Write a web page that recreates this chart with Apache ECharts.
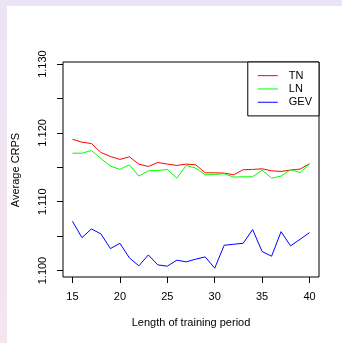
<!DOCTYPE html>
<html>
<head>
<meta charset="utf-8">
<script src="https://cdn.jsdelivr.net/npm/echarts@6/dist/echarts.min.js"></script>
<style>
html,body{margin:0;padding:0;width:342px;height:343px;overflow:hidden;}
body{background:linear-gradient(to bottom,#ebe4f5,#f7e4ee);position:relative;}
#paper{position:absolute;left:7px;top:6px;right:0;bottom:0;background:#ffffff;}
#chart{position:absolute;left:0;top:0;width:342px;height:343px;}
</style>
</head>
<body>
<div id="paper"></div>
<div id="chart"></div>
<script>
const periods = [15,16,17,18,19,20,21,22,23,24,25,26,27,28,29,30,31,32,33,34,35,36,37,38,39,40];
const tnValues = [1.11908,1.11865,1.11845,1.11715,1.11657,1.11614,1.11652,1.11546,1.11512,1.11570,1.11546,1.11527,1.11546,1.11536,1.11420,1.11420,1.11416,1.11391,1.11464,1.11469,1.11478,1.11449,1.11440,1.11459,1.11474,1.11551];
const lnValues = [1.11705,1.11705,1.11744,1.11628,1.11517,1.11469,1.11536,1.11372,1.11449,1.11454,1.11469,1.11343,1.11527,1.11488,1.11391,1.11396,1.11406,1.11358,1.11362,1.11362,1.11459,1.11343,1.11372,1.11464,1.11425,1.11546];
const gevValues = [1.10715,1.10478,1.10604,1.10532,1.10319,1.10396,1.10184,1.10068,1.10227,1.10082,1.10063,1.10150,1.10126,1.10165,1.10198,1.10034,1.10367,1.10382,1.10396,1.10594,1.10276,1.10208,1.10565,1.10358,1.10454,1.10551];
const seriesNames = ['TN','LN','GEV'];
const xTickValues = [15,20,25,30,35,40];
const yTickValues = [1.100,1.105,1.110,1.115,1.120,1.125,1.130];
const yLabelValues = [1.100,1.110,1.120,1.130];
const xTitle = 'Length of training period';
const yTitle = 'Average CRPS';

const FONT = '"Liberation Sans", Arial, Helvetica, sans-serif';
const chart = echarts.init(document.getElementById('chart'), null, {renderer:'canvas'});
function pairs(vals){ return periods.map((p,i)=>[p, vals[i]]); }
const colors = ['#ff0000','#00ff00','#0000ff'];
const allVals = [tnValues, lnValues, gevValues];

chart.setOption({
  backgroundColor: 'transparent',
  animation: false,
  grid: {left:63, right:23, top:62, bottom:66, show:true, borderColor:'#000', borderWidth:1, backgroundColor:'transparent'},
  xAxis: {
    type:'value', min:14, max:41,
    axisLine:{show:false},
    splitLine:{show:false},
    axisTick:{show:true, inside:false, length:6, customValues:xTickValues, lineStyle:{color:'#000', width:1}},
    axisLabel:{show:true, customValues:xTickValues, margin:14, fontSize:11, color:'#000', fontFamily:FONT}
  },
  yAxis: {
    type:'value', min:1.09906, max:1.1303,
    axisLine:{show:false},
    splitLine:{show:false},
    axisTick:{show:true, inside:false, length:6, customValues:yTickValues, lineStyle:{color:'#000', width:1}},
    axisLabel:{show:true, customValues:yLabelValues, rotate:90, margin:15, fontSize:11, color:'#000', fontFamily:FONT,
      formatter: v => Number(v).toFixed(3)}
  },
  legend: {
    show:true, orient:'vertical', right:23, top:62,
    data: seriesNames.map(n=>({name:n, icon:'rect'})),
    itemWidth:20, itemHeight:1, itemGap:0,
    padding:[7,7,7,10],
    borderColor:'#000', borderWidth:1, borderRadius:0,
    backgroundColor:'#fff',
    textStyle:{fontSize:11, color:'#000', fontFamily:FONT, lineHeight:13.3, padding:[0,0,0,6]}
  },
  graphic: [
    {type:'text', x:16, y:170, rotation:Math.PI/2, style:{text:yTitle, fontSize:11, fill:'#000', fontFamily:FONT, align:'center', verticalAlign:'middle'}},
    {type:'text', x:191, y:323, style:{text:xTitle, fontSize:11, fill:'#000', fontFamily:FONT, align:'center', verticalAlign:'middle'}}
  ],
  series: seriesNames.map((n,i)=>({
    name:n, type:'line', data:pairs(allVals[i]),
    symbol:'none', showSymbol:false,
    lineStyle:{color:colors[i], width:1},
    itemStyle:{color:colors[i]}
  }))
});
</script>
</body>
</html>
